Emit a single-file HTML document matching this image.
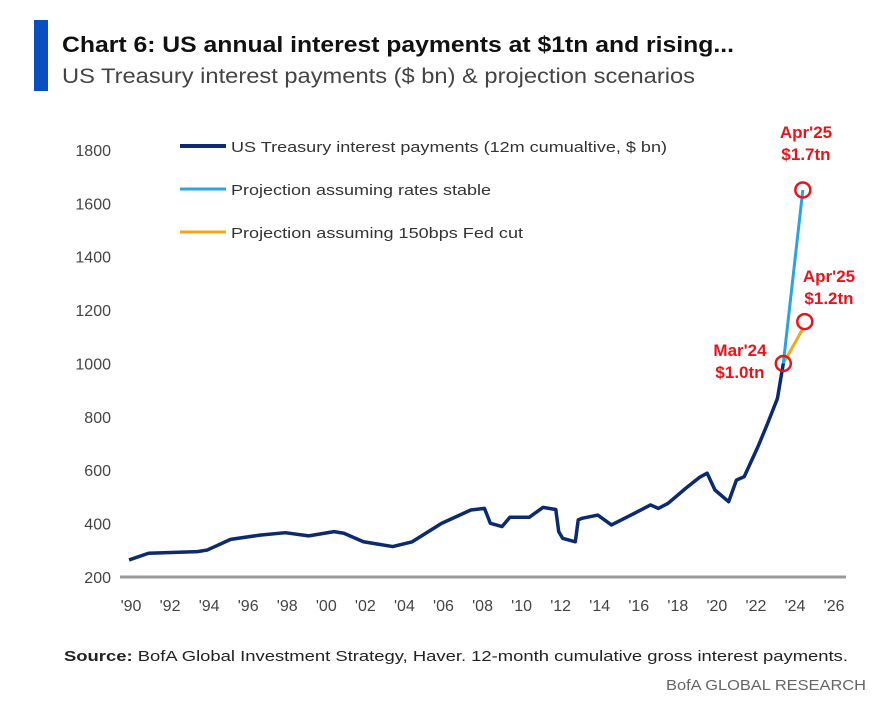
<!DOCTYPE html>
<html><head><meta charset="utf-8"><style>
html,body{margin:0;padding:0;background:#fff;}
svg{display:block;font-family:"Liberation Sans",sans-serif;}
</style></head><body>
<svg id="chart" width="882" height="701" viewBox="0 0 882 701" xmlns="http://www.w3.org/2000/svg">
<rect x="34" y="20" width="14" height="71" fill="#0a4fc0"/>
<text x="62" y="52" font-size="22" font-weight="bold" fill="#111" textLength="672" lengthAdjust="spacingAndGlyphs">Chart 6: US annual interest payments at $1tn and rising...</text>
<text x="62" y="83" font-size="21" fill="#444" textLength="633" lengthAdjust="spacingAndGlyphs">US Treasury interest payments ($ bn) &amp; projection scenarios</text>
<g id="yaxis"></g>
<g id="xaxis"></g>
<line x1="120" y1="577" x2="846" y2="577" stroke="#999" stroke-width="3"/>
<g id="series"></g>
<g>
 <g><line x1="180" y1="146" x2="226" y2="146" stroke="#0c2a6e" stroke-width="4"/><text x="231" y="152" font-size="15" fill="#333" textLength="436" lengthAdjust="spacingAndGlyphs">US Treasury interest payments (12m cumualtive, $ bn)</text></g>
 <g><line x1="180" y1="189" x2="226" y2="189" stroke="#2aa4e0" stroke-width="3"/><text x="231" y="195" font-size="15" fill="#333" textLength="260" lengthAdjust="spacingAndGlyphs">Projection assuming rates stable</text></g>
 <g><line x1="180" y1="232" x2="226" y2="232" stroke="#f0a81c" stroke-width="3"/><text x="231" y="238" font-size="15" fill="#333" textLength="292" lengthAdjust="spacingAndGlyphs">Projection assuming 150bps Fed cut</text></g>
</g>
<g font-size="17" font-weight="bold" fill="#e8141c">
 <text x="806" y="138" text-anchor="middle">Apr'25</text>
 <text x="806" y="160" text-anchor="middle">$1.7tn</text>
 <text x="829" y="282" text-anchor="middle">Apr'25</text>
 <text x="829" y="304" text-anchor="middle">$1.2tn</text>
 <text x="740" y="356" text-anchor="middle">Mar'24</text>
 <text x="740" y="378" text-anchor="middle">$1.0tn</text>
</g>
<text x="64" y="661" font-size="15" fill="#222" textLength="784" lengthAdjust="spacingAndGlyphs"><tspan font-weight="bold">Source:</tspan> BofA Global Investment Strategy, Haver. 12-month cumulative gross interest payments.</text>
<text x="866" y="690" font-size="15" fill="#666" text-anchor="end" textLength="200" lengthAdjust="spacingAndGlyphs">BofA GLOBAL RESEARCH</text>
</svg>
<script>
const yTicks=[200,400,600,800,1000,1200,1400,1600,1800];
const xTickYears=[1990,1992,1994,1996,1998,2000,2002,2004,2006,2008,2010,2012,2014,2016,2018,2020,2022,2024,2026];
const xTickLabels=["'90","'92","'94","'96","'98","'00","'02","'04","'06","'08","'10","'12","'14","'16","'18","'20","'22","'24","'26"];
const actualYears=[1989.9,1990.9,1993.4,1993.9,1995.1,1996.6,1997.9,1999.1,2000.4,2000.9,2001.9,2003.4,2004.4,2005.9,2007.4,2008.1,2008.4,2009,2009.4,2010.4,2011.1,2011.75,2011.9,2012.1,2012.75,2012.9,2013.1,2013.9,2014.6,2015.6,2016.6,2017,2017.5,2018.4,2019.1,2019.5,2019.9,2020.6,2021,2021.4,2022.1,2022.6,2023.1,2023.4];
const actualValues=[264,289,295,301,341,357,366,354,370,364,332,314,332,401,451,457,401,389,424,424,461,453,370,345,332,414,420,432,395,432,470,457,476,532,573,589,526,482,563,576,688,776,869,1000];
const stableYears=[2023.4,2024.4];
const stableValues=[1000,1650];
const cutYears=[2023.4,2024.4];
const cutValues=[1000,1130];
const markerYears=[2023.4,2024.4,2024.5];
const markerValues=[1000,1650,1157];

const NS="http://www.w3.org/2000/svg";
const xs=y=>131+(y-1990)*19.53;
const ys=v=>577-(v-200)*0.2669;
const yg=document.getElementById('yaxis'),xg=document.getElementById('xaxis'),sg=document.getElementById('series');
yTicks.forEach(v=>{const t=document.createElementNS(NS,'text');


t.setAttribute('x',111);t.setAttribute('y',ys(v)+6);t.setAttribute('text-anchor','end');t.setAttribute('font-size','16');t.setAttribute('fill','#444');t.textContent=v;yg.appendChild(t);});
xTickYears.forEach((yr,i)=>{const t=document.createElementNS(NS,'text');


t.setAttribute('x',xs(yr));t.setAttribute('y',611);t.setAttribute('text-anchor','middle');t.setAttribute('font-size','16');t.setAttribute('fill','#444');t.textContent=xTickLabels[i];xg.appendChild(t);});
function line(xa,va,color,w,name){const p=document.createElementNS(NS,'polyline');


p.setAttribute('points',xa.map((x,i)=>xs(x)+','+ys(va[i])).join(' '));p.setAttribute('fill','none');p.setAttribute('stroke',color);p.setAttribute('stroke-width',w);p.setAttribute('stroke-linejoin','round');sg.appendChild(p);}
line(cutYears,cutValues,'#f0a81c',3,'series-fed-cut-projection');
line(stableYears,stableValues,'#2aa4e0',3,'series-rates-stable-projection');
line(actualYears,actualValues,'#0c2a6e',3.5,'series-actual-interest-payments');
markerYears.forEach((yr,i)=>{const c=document.createElementNS(NS,'circle');


c.setAttribute('cx',xs(yr));c.setAttribute('cy',ys(markerValues[i]));c.setAttribute('r',7.5);c.setAttribute('fill','none');c.setAttribute('stroke','#e8141c');c.setAttribute('stroke-width',2.5);sg.appendChild(c);});
</script>
</body></html>
